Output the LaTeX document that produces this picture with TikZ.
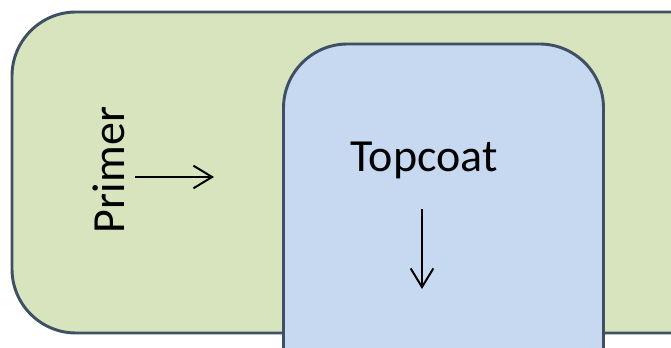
\documentclass[tikz,border=0pt]{standalone}
\usepackage{fontspec}
\setmainfont{Carlito}
\definecolor{coatline}{RGB}{62,80,99}
\definecolor{primergreen}{RGB}{215,228,189}
\definecolor{topcoatblue}{RGB}{198,217,240}
\usetikzlibrary{arrows.meta,positioning}
\tikzset{
	>={Straight Barb[length=14pt,width=17pt,line width=1.5pt]},
	coatbox/.style={
		rectangle,
		rounded corners=48pt,
		draw=coatline, line width=2.2pt,
		inner sep=0pt},
	coatlabel/.style={
		font=\fontsize{34.5}{40}\selectfont,
		text=black, inner sep=0pt},
	line/.style={draw, line width=1.5pt, ->},
}

\begin{document}
\begin{tikzpicture}
[x=0.75pt, y=-0.75pt]
\useasboundingbox (0,0) rectangle (671,348);
\clip (0,0) rectangle (671,348);
\fill[white] (0,0) rectangle (671,348);
% the two layers
\node[coatbox, fill=primergreen, minimum width=591pt, minimum height=240.75pt] (primer) at (406,172.5) {};
\node[coatbox, fill=topcoatblue, minimum width=240pt, minimum height=282pt] (topcoat) at (443.5,232) {};
% labels and arrows
\node[coatlabel, rotate=90, anchor=base] (primertext) at (124,170) {Primer};
\node[coatlabel, anchor=base] (topcoattext) at (424,172) {Topcoat};
\coordinate (primerfrom) at (135,177);
\coordinate (primerto) at (214,177);
\coordinate (topcoatfrom) at (422,209);
\coordinate (topcoatto) at (422,289);
\draw[line] (primerfrom) -- (primerto);
\draw[line] (topcoatfrom) -- (topcoatto);
\end{tikzpicture}
\end{document}
